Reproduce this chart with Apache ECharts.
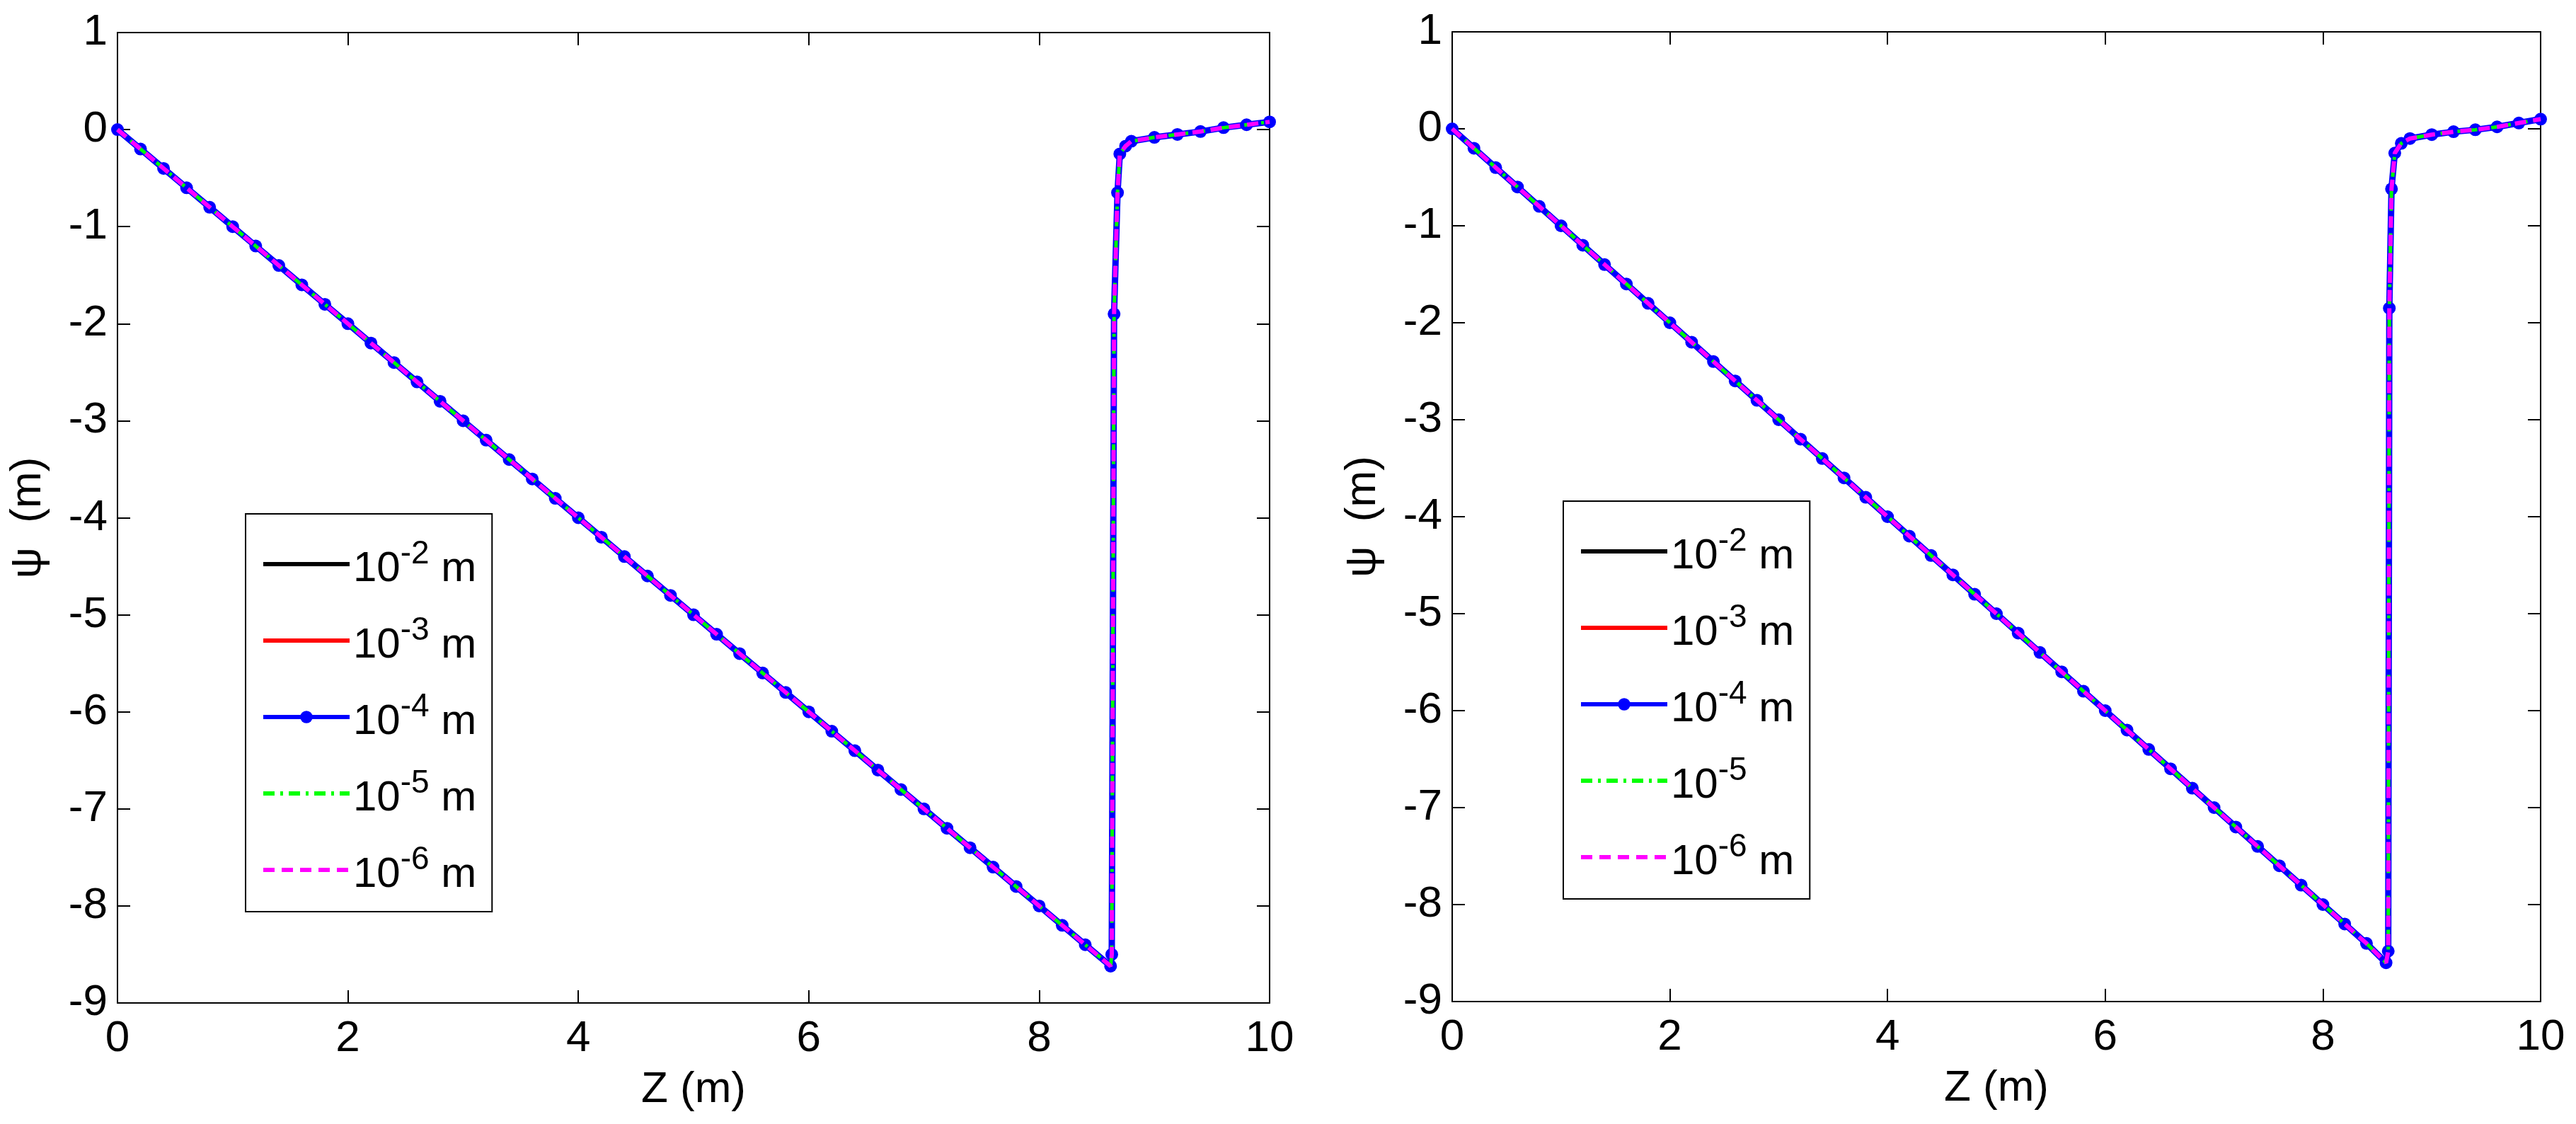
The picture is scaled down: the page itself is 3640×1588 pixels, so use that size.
<!DOCTYPE html>
<html>
<head>
<meta charset="utf-8">
<script src="https://cdn.jsdelivr.net/npm/echarts@6/dist/echarts.min.js"></script>
<style>
  html, body { margin: 0; padding: 0; background: #fff; }
  #chart { width: 3640px; height: 1588px; }
</style>
</head>
<body>
<div id="chart"></div>
<script>
// mesh sizes shown in the legend
var seriesNames = ['1e-2', '1e-3', '1e-4', '1e-5', '1e-6'];
var exponents = ['-2', '-3', '-4', '-5', '-6'];
var seriesColors = ['#000000', '#ff0000', '#0000ff', '#00ff00', '#ff00ff'];

var xTicks = [0, 2, 4, 6, 8, 10];
var yTicks = [-9, -8, -7, -6, -5, -4, -3, -2, -1, 0, 1];

// left panel: [Z, psi]
var leftZ = [0, 0.2, 0.4, 0.6, 0.8, 1.0, 1.2, 1.4, 1.6, 1.8, 2.0, 2.2, 2.4, 2.6, 2.8, 3.0,
  3.2, 3.4, 3.6, 3.8, 4.0, 4.2, 4.4, 4.6, 4.8, 5.0, 5.2, 5.4, 5.6, 5.8, 6.0, 6.2, 6.4,
  6.6, 6.8, 7.0, 7.2, 7.4, 7.6, 7.8, 8.0, 8.2, 8.4, 8.62, 8.63, 8.65, 8.68, 8.7, 8.75,
  8.8, 9.0, 9.2, 9.4, 9.6, 9.8, 10.0];
var leftPsi = [0, -0.2, -0.4, -0.6, -0.8, -1.0, -1.2, -1.4, -1.6, -1.8, -2.0, -2.2, -2.4,
  -2.6, -2.8, -3.0, -3.2, -3.4, -3.6, -3.8, -4.0, -4.2, -4.4, -4.6, -4.8, -5.0, -5.2, -5.4,
  -5.6, -5.8, -6.0, -6.2, -6.4, -6.6, -6.8, -7.0, -7.2, -7.4, -7.6, -7.8, -8.0, -8.2, -8.4,
  -8.62, -8.5, -1.9, -0.65, -0.25, -0.17, -0.12, -0.08, -0.05, -0.02, 0.02, 0.05, 0.08];

// right panel
var rightZ = [0, 0.2, 0.4, 0.6, 0.8, 1.0, 1.2, 1.4, 1.6, 1.8, 2.0, 2.2, 2.4, 2.6, 2.8, 3.0,
  3.2, 3.4, 3.6, 3.8, 4.0, 4.2, 4.4, 4.6, 4.8, 5.0, 5.2, 5.4, 5.6, 5.8, 6.0, 6.2, 6.4,
  6.6, 6.8, 7.0, 7.2, 7.4, 7.6, 7.8, 8.0, 8.2, 8.4, 8.58, 8.6, 8.61, 8.63, 8.66, 8.72,
  8.8, 9.0, 9.2, 9.4, 9.6, 9.8, 10.0];
var rightPsi = [0, -0.2, -0.4, -0.6, -0.8, -1.0, -1.2, -1.4, -1.6, -1.8, -2.0, -2.2, -2.4,
  -2.6, -2.8, -3.0, -3.2, -3.4, -3.6, -3.8, -4.0, -4.2, -4.4, -4.6, -4.8, -5.0, -5.2, -5.4,
  -5.6, -5.8, -6.0, -6.2, -6.4, -6.6, -6.8, -7.0, -7.2, -7.4, -7.6, -7.8, -8.0, -8.2, -8.4,
  -8.6, -8.48, -1.85, -0.62, -0.25, -0.15, -0.1, -0.06, -0.03, -0.01, 0.02, 0.06, 0.1];

var FONT = 'Liberation Sans';

function pairs(zs, ps) {
  return zs.map(function (z, i) { return [z, ps[i]]; });
}

var chart = echarts.init(document.getElementById('chart'));

var grids = [
  { left: 166, top: 46, width: 1628, height: 1371 },
  { left: 2052, top: 45, width: 1538, height: 1370 }
];

var xAxes = [], yAxes = [];
grids.forEach(function (g, gi) {
  xAxes.push({
    type: 'value', gridIndex: gi, min: 0, max: 10, interval: 2,
    name: 'Z (m)', nameLocation: 'middle', nameGap: 92,
    nameTextStyle: { fontFamily: FONT, fontSize: 62, color: '#000' },
    axisLine: { show: true, onZero: false, lineStyle: { color: '#000', width: 2 } },
    axisTick: { inside: true, length: 18, lineStyle: { color: '#000', width: 2 } },
    axisLabel: { fontFamily: FONT, fontSize: 62, color: '#000', margin: 20 },
    splitLine: { show: false }
  });
  xAxes.push({
    type: 'value', gridIndex: gi, min: 0, max: 10, interval: 2, position: 'top',
    axisLine: { show: true, onZero: false, lineStyle: { color: '#000', width: 2 } },
    axisTick: { inside: true, length: 18, lineStyle: { color: '#000', width: 2 } },
    axisLabel: { show: false }, splitLine: { show: false }
  });
  yAxes.push({
    type: 'value', gridIndex: gi, min: -9, max: 1, interval: 1,
    name: 'ψ  (m)', nameLocation: 'middle', nameGap: 95, nameRotate: 90,
    nameTextStyle: { fontFamily: FONT, fontSize: 62, color: '#000' },
    axisLine: { show: true, onZero: false, lineStyle: { color: '#000', width: 2 } },
    axisTick: { inside: true, length: 18, lineStyle: { color: '#000', width: 2 } },
    axisLabel: { fontFamily: FONT, fontSize: 62, color: '#000', margin: 14 },
    splitLine: { show: false }
  });
  yAxes.push({
    type: 'value', gridIndex: gi, min: -9, max: 1, interval: 1, position: 'right',
    axisLine: { show: true, onZero: false, lineStyle: { color: '#000', width: 2 } },
    axisTick: { inside: true, length: 18, lineStyle: { color: '#000', width: 2 } },
    axisLabel: { show: false }, splitLine: { show: false }
  });
});

var lineTypes = ['solid', 'solid', 'solid', [16, 8, 4, 8], [16, 10]];
var lineWidths = [5, 5, 9, 5, 6];
var series = [];
[pairs(leftZ, leftPsi), pairs(rightZ, rightPsi)].forEach(function (data, gi) {
  seriesNames.forEach(function (name, si) {
    var hasDot = si === 2;
    series.push({
      type: 'line', name: name, data: data,
      xAxisIndex: gi * 2, yAxisIndex: gi * 2,
      showSymbol: hasDot, symbol: hasDot ? 'circle' : 'none', symbolSize: 18,
      itemStyle: { color: seriesColors[si] },
      lineStyle: { color: seriesColors[si], width: lineWidths[si], type: lineTypes[si] },
      animation: false, z: 2 + si
    });
  });
});

var rich = {
  b: { fontFamily: FONT, fontSize: 60, color: '#000', verticalAlign: 'bottom' },
  s: { fontFamily: FONT, fontSize: 46, color: '#000', verticalAlign: 'bottom', padding: [0, 0, 28, 0] }
};

function legendFor(left, top, noUnitIndex) {
  return {
    orient: 'vertical', left: left, top: top,
    data: seriesNames.map(function (n, i) {
      return {
        name: n,
        itemStyle: i === 2 ? { color: seriesColors[i] } : { opacity: 0 },
        lineStyle: { width: 6, color: seriesColors[i], type: lineTypes[i] }
      };
    }),
    backgroundColor: '#fff', borderColor: '#000', borderWidth: 2,
    padding: [34, 22, 22, 22], itemGap: 34, itemWidth: 122, itemHeight: 22,
    selectedMode: false,
    formatter: function (name) {
      var i = seriesNames.indexOf(name);
      var unit = i === noUnitIndex ? '' : ' m';
      return '{b|10}{s|' + exponents[i] + '}{b|' + unit + '}';
    },
    textStyle: { rich: rich }
  };
}

chart.setOption({
  backgroundColor: '#fff',
  grid: grids,
  xAxis: xAxes,
  yAxis: yAxes,
  legend: [legendFor(347, 726, -1), legendFor(2209, 708, 3)],
  series: series
});
</script>
</body>
</html>
